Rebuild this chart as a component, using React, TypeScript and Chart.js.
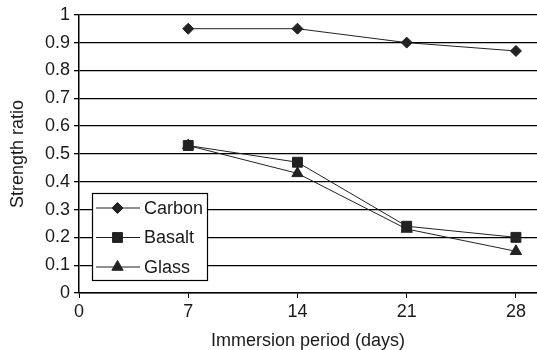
import React, { useEffect, useRef } from 'react';
import { Chart, registerables } from 'chart.js';
import { drawPoint } from 'chart.js/helpers';

Chart.register(...registerables);

// ---- data ----
const days = [7, 14, 21, 28];
const carbon = [0.95, 0.95, 0.9, 0.87];
const basalt = [0.53, 0.47, 0.24, 0.2];
const glass = [0.53, 0.43, 0.23, 0.15];
const xTickValues = [0, 7, 14, 21, 28];
const seriesNames = ['Carbon', 'Basalt', 'Glass'];
const xTitle = 'Immersion period (days)';
const yTitle = 'Strength ratio';

const FONT = "'Liberation Sans', Arial, Helvetica, sans-serif";
const TEXT = '#1a1a1a';

const legendPlugin = {
  id: 'boxLegend',
  afterDatasetsDraw(chart: any) {
    const { ctx, chartArea } = chart;
    const bx = chartArea.left + 13;
    const by = chartArea.bottom - 100;
    const bw = 115;
    const bh = 87;
    ctx.save();
    ctx.fillStyle = '#fff';
    ctx.fillRect(bx, by, bw, bh);
    ctx.strokeStyle = '#000';
    ctx.lineWidth = 1.2;
    ctx.strokeRect(bx + 0.5, by + 0.5, bw, bh);
    chart.data.datasets.forEach((ds: any, i: number) => {
      const cy = by + 15 + i * 29.5;
      ctx.strokeStyle = ds.borderColor;
      ctx.lineWidth = ds.borderWidth;
      ctx.beginPath();
      ctx.moveTo(bx + 4, cy);
      ctx.lineTo(bx + 48, cy);
      ctx.stroke();
      ctx.fillStyle = ds.pointBackgroundColor;
      ctx.strokeStyle = ds.pointBorderColor;
      drawPoint(ctx, { pointStyle: ds.pointStyle, radius: ds.pointRadius, rotation: 0, borderWidth: 1 }, bx + 25.5, cy);
      ctx.fillStyle = TEXT;
      ctx.font = `18px ${FONT}`;
      ctx.textBaseline = 'middle';
      ctx.textAlign = 'left';
      ctx.fillText(seriesNames[i], bx + 52, cy + 1);
    });
    ctx.restore();
  },
};

function mk(name: string, vals: number[], style: string, radius: number) {
  return {
    label: name,
    data: days.map((d, i) => ({ x: d, y: vals[i] })),
    borderColor: '#222',
    borderWidth: 1,
    pointStyle: style,
    pointRadius: radius,
    pointHoverRadius: radius,
    pointBackgroundColor: '#222',
    pointBorderColor: '#222',
    pointBorderWidth: 1,
    fill: false,
    tension: 0,
  };
}

export default function App() {
  const ref = useRef<HTMLCanvasElement | null>(null);
  useEffect(() => {
    if (!ref.current) return;
    const chart = new Chart(ref.current, {
      type: 'line',
      data: {
        datasets: [
          mk(seriesNames[0], carbon, 'rectRot', 5.5),
          mk(seriesNames[1], basalt, 'rect', 7),
          mk(seriesNames[2], glass, 'triangle', 6.5),
        ],
      },
      plugins: [legendPlugin],
      options: {
        responsive: false,
        animation: false,
        devicePixelRatio: 1,
        layout: { autoPadding: false, padding: { top: 14, right: 0, left: 0, bottom: 0 } },
        plugins: { legend: { display: false }, tooltip: { enabled: false } },
        scales: {
          x: {
            type: 'linear',
            min: 0,
            max: 29.35,
            afterBuildTicks: (s: any) => {
              s.ticks = xTickValues.map((v) => ({ value: v }));
            },
            afterFit: (s: any) => {
              s.height = 57;
              s.paddingRight = 0;
              s.paddingLeft = 0;
            },
            grid: { drawOnChartArea: false, drawTicks: true, tickLength: 5, color: '#000', lineWidth: 1 },
            border: { color: '#000', width: 1.5 },
            ticks: { font: { family: FONT, size: 18 }, color: TEXT, padding: 3, maxRotation: 0, autoSkip: false },
            title: { display: true, text: xTitle, font: { family: FONT, size: 18 }, color: TEXT, padding: { top: 0, bottom: -2 } },
          },
          y: {
            min: 0,
            max: 1,
            afterFit: (s: any) => {
              s.width = 79;
            },
            ticks: {
              stepSize: 0.1,
              font: { family: FONT, size: 18 },
              color: TEXT,
              padding: 4,
              callback: (v: any) => String(Math.round(Number(v) * 10) / 10),
            },
            grid: { color: '#000', lineWidth: 1.3, tickLength: 5 },
            border: { color: '#000', width: 1.5 },
            title: { display: true, text: yTitle, font: { family: FONT, size: 18 }, color: TEXT, padding: { top: 7, bottom: 0 } },
          },
        },
      },
    } as any);
    return () => chart.destroy();
  }, []);
  return (
    <div style={{ position: 'absolute', left: 0, top: 0, width: 537, height: 350, background: '#fff' }}>
      <canvas ref={ref} width={537} height={350} />
    </div>
  );
}
